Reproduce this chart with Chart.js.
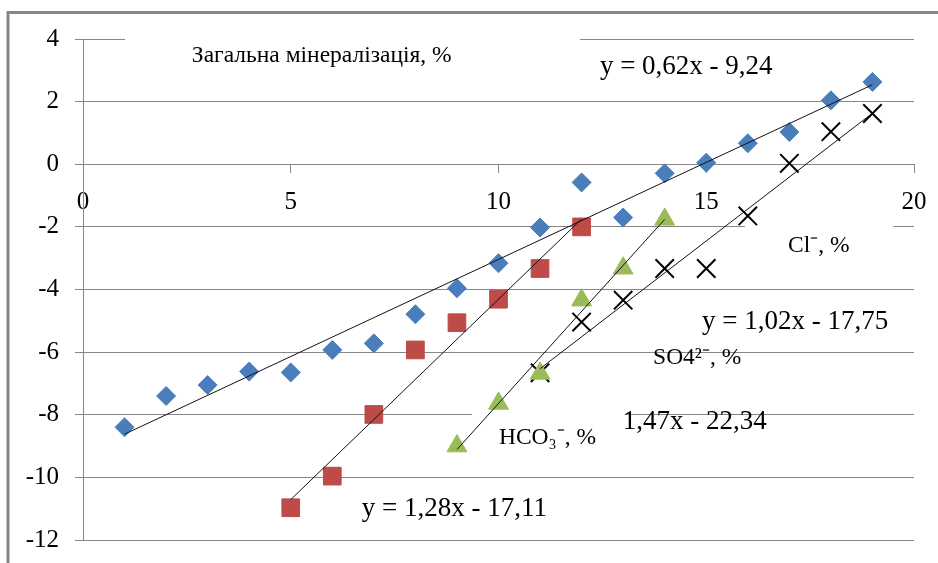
<!DOCTYPE html>
<html>
<head>
<meta charset="utf-8">
<script src="https://cdn.jsdelivr.net/npm/chart.js@4.4.1/dist/chart.umd.min.js"></script>
<style>
  html, body { margin: 0; padding: 0; background: #fff; }
  #wrap { width: 938px; height: 563px; position: relative; }
  canvas { display: block; }
</style>
</head>
<body>
<div id="wrap"><canvas id="chart" width="938" height="563"></canvas></div>
<script>
// values
const diamondX = [1, 2, 3, 4, 5, 6, 7, 8, 9, 10, 11, 12, 13, 14, 15, 16, 17, 18, 19];
const diamondY = [-8.4, -7.4, -7.05, -6.62, -6.65, -5.93, -5.72, -4.79, -3.96, -3.16, -2.02, -0.58, -1.7, -0.29, 0.05, 0.67, 1.03, 2.04, 2.63];
const squareX = [5, 6, 7, 8, 9, 10, 11, 12];
const squareY = [-10.97, -9.96, -7.99, -5.93, -5.06, -4.31, -3.33, -2.0];
const triangleX = [9, 10, 11, 12, 13, 14];
const triangleY = [-9.0, -7.64, -6.68, -4.34, -3.32, -1.76];
const crossX = [11, 12, 13, 14, 15, 16, 17, 18, 19];
const crossY = [-6.66, -5.04, -4.34, -3.33, -3.33, -1.65, 0.03, 1.04, 1.62];

// linear trendlines as printed on the chart: slope, intercept, x range
const trendSlope = [0.62, 1.28, 1.47, 1.02];
const trendIntercept = [-9.24, -17.11, -22.34, -17.75];
const trendFrom = [1, 5, 9, 11];
const trendTo = [19, 12, 14, 19];

const xTicks = [0, 5, 10, 15, 20];
const yTicks = [-12, -10, -8, -6, -4, -2, 0, 2, 4];

const SERIF = '"Liberation Serif", "Times New Roman", serif';

// text labels anchored in data units
const notes = [
  { text: 'Загальна мінералізація, %', x: 2.62, y: 3.45, size: 23.5 },
  { text: 'y = 0,62x - 9,24', x: 12.44, y: 3.1, size: 27 },
  { text: 'Cl\u207B, %', x: 16.97, y: -2.62, size: 23.5 },
  { text: 'y = 1,02x - 17,75', x: 14.9, y: -5.02, size: 27 },
  { text: 'SO4\u00B2\u207B, %', x: 13.72, y: -6.17, size: 23.5 },
  { text: '1,47x - 22,34', x: 12.99, y: -8.24, size: 27 },
  { text: 'HCO\u2083\u207B, %', x: 10.01, y: -8.75, size: 23.5 },
  { text: 'y = 1,28x - 17,11', x: 6.71, y: -11.02, size: 27 }
];
// white label boxes that hide parts of gridlines
const boxes = [
  { x0: 1.01, x1: 11.96, y0: 4.3, y1: 2.75 },
  { x0: 15.93, x1: 19.5, y0: -1.65, y1: -3.2 },
  { x0: 9.36, x1: 13.04, y0: -7.55, y1: -9.4 }
];

function pts(xs, ys) {
  return xs.map((x, i) => ({ x: x, y: ys[i] }));
}

const trendSets = trendSlope.map((m, i) => ({
  type: 'line',
  data: [
    { x: trendFrom[i], y: m * trendFrom[i] + trendIntercept[i] },
    { x: trendTo[i], y: m * trendTo[i] + trendIntercept[i] }
  ],
  borderColor: '#111111',
  borderWidth: 1,
  pointRadius: 0,
  fill: false,
  order: 0
}));

const overlay = {
  id: 'overlay',
  beforeDraw(chart) {
    const ctx = chart.ctx;
    ctx.save();
    ctx.strokeStyle = '#878787';
    ctx.lineWidth = 3;
    ctx.beginPath();
    ctx.moveTo(8, 563);
    ctx.lineTo(8, 12.5);
    ctx.lineTo(938, 12.5);
    ctx.stroke();
    ctx.restore();
  },
  beforeDatasetsDraw(chart) {
    const ctx = chart.ctx;
    const sx = chart.scales.x, sy = chart.scales.y;
    ctx.save();
    ctx.fillStyle = '#ffffff';
    boxes.forEach(b => {
      const l = sx.getPixelForValue(b.x0), r = sx.getPixelForValue(b.x1);
      const t = sy.getPixelForValue(b.y0), bt = sy.getPixelForValue(b.y1);
      ctx.fillRect(l, t, r - l, bt - t);
    });
    ctx.fillStyle = '#000000';
    ctx.textAlign = 'left';
    ctx.textBaseline = 'middle';
    notes.forEach(n => {
      ctx.font = n.size + 'px ' + SERIF;
      ctx.fillText(n.text, sx.getPixelForValue(n.x), sy.getPixelForValue(n.y));
    });
    ctx.restore();
  }
};

new Chart(document.getElementById('chart'), {
  type: 'scatter',
  data: {
    datasets: [
      {
        data: pts(diamondX, diamondY),
        pointStyle: 'rectRot',
        pointRadius: 9.5,
        backgroundColor: '#4A7EBB',
        borderColor: '#4A7EBB',
        borderWidth: 1,
        order: 1
      },
      {
        data: pts(squareX, squareY),
        pointStyle: 'rect',
        pointRadius: 12.5,
        backgroundColor: '#BE4B48',
        borderColor: '#BE4B48',
        borderWidth: 1,
        order: 1
      },
      {
        data: pts(triangleX, triangleY),
        pointStyle: 'triangle',
        pointRadius: 11.5,
        backgroundColor: '#9BBB59',
        borderColor: '#9BBB59',
        borderWidth: 1,
        order: 1
      },
      {
        data: pts(crossX, crossY),
        pointStyle: 'crossRot',
        pointRadius: 13,
        backgroundColor: '#000000',
        borderColor: '#000000',
        borderWidth: 2,
        order: 1
      },
      ...trendSets
    ]
  },
  options: {
    responsive: false,
    animation: false,
    layout: { padding: { top: 39, right: 24, bottom: 23, left: 0 } },
    plugins: {
      legend: { display: false },
      tooltip: { enabled: false }
    },
    scales: {
      x: {
        type: 'linear',
        min: 0,
        max: 20,
        position: { y: 0 },
        afterBuildTicks: (s) => { s.ticks = xTicks.map(v => ({ value: v })); },
        afterFit: (s) => { s.height = 0; s.paddingLeft = 0; s.paddingRight = 0; },
        grid: { drawOnChartArea: false, drawTicks: true, tickLength: 8, color: '#878787' },
        border: { display: true, color: '#878787', width: 1 },
        ticks: { font: { family: SERIF, size: 25 }, color: '#000', padding: 15, maxRotation: 0, autoSkip: false }
      },
      y: {
        type: 'linear',
        min: -12,
        max: 4,
        position: 'left',
        afterBuildTicks: (s) => { s.ticks = yTicks.map(v => ({ value: v })); },
        afterFit: (s) => { s.width = 83; s.paddingTop = 0; s.paddingBottom = 0; },
        grid: { color: '#878787', tickLength: 8, lineWidth: 1 },
        border: { display: true, color: '#878787', width: 1 },
        ticks: { font: { family: SERIF, size: 25 }, color: '#000', padding: 16, autoSkip: false }
      }
    }
  },
  plugins: [overlay]
});
</script>
</body>
</html>
